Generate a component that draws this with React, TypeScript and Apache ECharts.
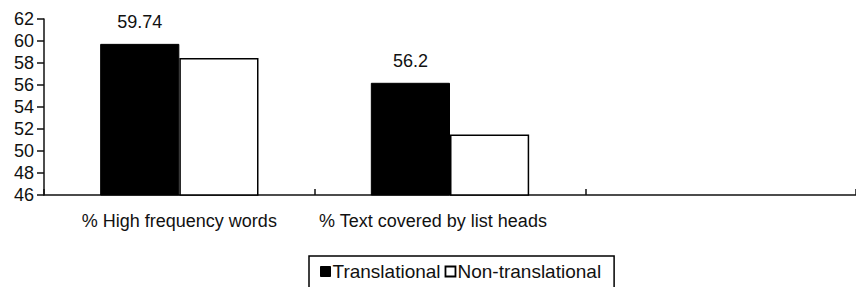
import React, { useEffect, useRef } from "react";
import * as echarts from "echarts";

const categories = ["% High frequency words", "% Text covered by list heads", ""];
const translational = [59.74, 56.2, null];
const nonTranslational = [58.45, 51.5, null];
const translationalLabels = ["59.74", "56.2", ""];

export default function App() {
  const ref = useRef<HTMLDivElement>(null);
  useEffect(() => {
    if (!ref.current) return;
    const chart = echarts.init(ref.current, null, { renderer: "svg" });
    const font = "'Liberation Sans', Arial, sans-serif";
    chart.setOption({
      animation: false,
      backgroundColor: "#ffffff",
      textStyle: { fontFamily: font },
      grid: { left: 44, right: -4, top: 19, bottom: 92, containLabel: false },
      legend: {
        data: [
          { name: "Translational", icon: "rect", itemStyle: { color: "#000", borderColor: "#000", borderWidth: 1 } },
          { name: "Non-translational", icon: "rect", itemStyle: { color: "#fff", borderColor: "#000", borderWidth: 1.8 } },
        ],
        left: 309,
        top: 256,
        itemWidth: 10,
        itemHeight: 10,
        itemGap: 4,
        padding: [6, 13, 20, 11],
        borderColor: "#000",
        borderWidth: 1.5,
        textStyle: { fontFamily: font, fontSize: 19, color: "#111", padding: [0, 0, 0, -3] },
        selectedMode: false,
      },
      xAxis: {
        type: "category",
        data: [
          categories[0],
          { value: categories[1], textStyle: { padding: [0, 34, 0, 0] } },
          categories[2],
        ],
        axisLine: { lineStyle: { color: "#111", width: 1.5 } },
        axisTick: { show: true, inside: true, length: 6, alignWithLabel: false, lineStyle: { color: "#111", width: 1.5 } },
        axisLabel: { interval: 0, hideOverlap: false, fontFamily: font, fontSize: 18, color: "#111", margin: 17 },
      },
      yAxis: {
        type: "value",
        min: 46,
        max: 62,
        interval: 2,
        splitLine: { show: false },
        axisLine: { show: true, lineStyle: { color: "#111", width: 1.5 } },
        axisTick: { show: true, length: 7, lineStyle: { color: "#111", width: 1.5 } },
        axisLabel: { fontFamily: font, fontSize: 18, color: "#111", margin: 10 },
      },
      series: [
        {
          name: "Translational",
          type: "bar",
          data: translational,
          barGap: "0%",
          barCategoryGap: "41.5%",
          itemStyle: { color: "#000", borderColor: "#000", borderWidth: 1 },
          label: {
            show: true,
            position: "top",
            distance: 13,
            fontFamily: font,
            fontSize: 18,
            color: "#111",
            formatter: (p: any) => translationalLabels[p.dataIndex],
          },
        },
        {
          name: "Non-translational",
          type: "bar",
          data: nonTranslational,
          itemStyle: { color: "#fff", borderColor: "#000", borderWidth: 1.5 },
        },
      ],
    });
    return () => chart.dispose();
  }, []);
  return (
    <div
      ref={ref}
      style={{ position: "absolute", left: 0, top: 0, width: 856, height: 287 }}
    />
  );
}
